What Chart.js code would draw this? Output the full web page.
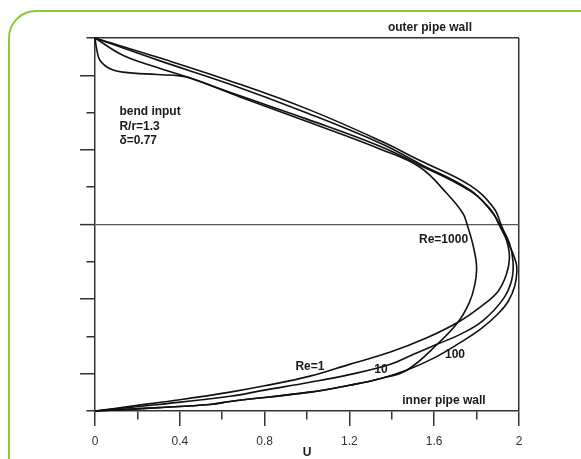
<!DOCTYPE html>
<html>
<head>
<meta charset="utf-8">
<script src="https://cdn.jsdelivr.net/npm/chart.js"></script>
<style>
html,body{margin:0;padding:0;background:#fff;overflow:hidden;}
#frame{position:absolute;left:8px;top:10px;width:620px;height:520px;border:2px solid #8dc63f;border-top-left-radius:28px;}
#wrap{position:absolute;left:0;top:0;width:581px;height:459px;}
</style>
</head>
<body>
<div id="frame"></div>
<div id="wrap"><canvas id="chart" width="581" height="459"></canvas></div>
<script>
// velocity profiles [U, position], outer wall (1) to inner wall (-1)
const re1 = [[0,1],[0.3,0.895],[0.637,0.77],[1.0,0.62],[1.344,0.45],[1.533,0.343],[1.769,0.21],[1.88,0.09],[1.915,0],[1.945,-0.1],[1.955,-0.18],[1.94,-0.27],[1.9,-0.36],[1.82,-0.44],[1.712,-0.524],[1.56,-0.61],[1.39,-0.685],[1.2,-0.75],[1.014,-0.813],[0.8,-0.865],[0.637,-0.899],[0.4,-0.94],[0.2,-0.97],[0,-1]]
const re10 = [[0,1],[0.3,0.88],[0.637,0.752],[1.0,0.598],[1.344,0.437],[1.533,0.325],[1.769,0.185],[1.87,0.07],[1.91,0],[1.955,-0.1],[1.972,-0.2],[1.965,-0.3],[1.925,-0.4],[1.83,-0.515],[1.73,-0.585],[1.618,-0.64],[1.5,-0.697],[1.39,-0.751],[1.2,-0.805],[1.014,-0.846],[0.8,-0.888],[0.637,-0.921],[0.3,-0.965],[0,-1]]
const re100 = [[0,1],[0.134,0.906],[0.291,0.843],[0.448,0.785],[0.684,0.69],[1.0,0.565],[1.344,0.42],[1.533,0.318],[1.769,0.18],[1.87,0.075],[1.905,0],[1.95,-0.1],[1.985,-0.2],[1.99,-0.25],[1.98,-0.33],[1.95,-0.41],[1.9,-0.48],[1.82,-0.56],[1.72,-0.635],[1.6,-0.715],[1.472,-0.78],[1.344,-0.827],[1.2,-0.862],[1.014,-0.899],[0.637,-0.949],[0.542,-0.965],[0.3,-0.982],[0,-1]]
const re1000 = [[0,1],[0.008,0.94],[0.024,0.879],[0.071,0.835],[0.132,0.817],[0.292,0.804],[0.401,0.797],[0.46,0.782],[0.684,0.684],[1.0,0.552],[1.344,0.405],[1.533,0.307],[1.66,0.166],[1.736,0.059],[1.755,0],[1.785,-0.12],[1.8,-0.23],[1.79,-0.33],[1.765,-0.42],[1.712,-0.524],[1.618,-0.638],[1.472,-0.78],[1.344,-0.827],[1.2,-0.862],[1.014,-0.899],[0.637,-0.949],[0.542,-0.965],[0.3,-0.982],[0,-1]]

const xTicks = [0,0.4,0.8,1.2,1.6,2]

// text placed in data units
const notes = [
  {text:'outer pipe wall', u:1.58, y:1.055, align:'center'},
  {text:'inner pipe wall', u:1.646, y:-0.944, align:'center'},
  {text:'bend input', u:0.115, y:0.607, align:'left'},
  {text:'R/r=1.3', u:0.115, y:0.525, align:'left'},
  {text:'\u03b4=0.77', u:0.115, y:0.45, align:'left'},
  {text:'Re=1000', u:1.644, y:-0.082, align:'center'},
  {text:'Re=1', u:1.014, y:-0.76, align:'center'},
  {text:'10', u:1.349, y:-0.777, align:'center'},
  {text:'100', u:1.698, y:-0.699, align:'center'}
]

const fam = '"Liberation Sans", Arial, sans-serif'
const axisCol = '#333'
const isMajor = v => Math.abs(Math.round(v*10)) % 4 === 0
const near = (a,b) => Math.abs(a-b) < 1e-6

const notePlugin = {
  id:'notes',
  afterDatasetsDraw(chart){
    const ctx = chart.ctx, sx = chart.scales.x, sy = chart.scales.y
    ctx.save()
    ctx.font = 'bold 12px ' + fam
    ctx.fillStyle = '#1a1a1a'
    ctx.textBaseline = 'middle'
    notes.forEach(n => {
      ctx.textAlign = n.align
      ctx.fillText(n.text, sx.getPixelForValue(n.u), sy.getPixelForValue(n.y))
    })
    ctx.restore()
  }
}

const ctx = document.getElementById('chart')
new Chart(ctx, {
  type:'scatter',
  data:{
    datasets:[re1, re10, re100, re1000].map(c => ({
      data:c.map(p => ({x:p[0], y:p[1]})),
      showLine:true,
      borderColor:'#111',
      borderWidth:1.6,
      pointRadius:0,
      tension:0.4,
      fill:false,
      clip:false
    }))
  },
  options:{
    responsive:false,
    animation:false,
    layout:{padding:{left:0, top:38, right:62, bottom:0}},
    plugins:{legend:{display:false}, tooltip:{enabled:false}},
    scales:{
      x:{
        type:'linear', min:0, max:2, position:'bottom',
        afterFit(s){ s.height = 48 },
        ticks:{stepSize:0.2, autoSkip:false, maxRotation:0, padding:8, color:'#333', font:{size:12, family:fam},
          callback: v => xTicks.some(t => near(t, v)) ? String(+(+v).toFixed(1)) : ''},
        grid:{
          color: c => (c.tick && near(c.tick.value, 2)) ? axisCol : 'rgba(0,0,0,0)',
          lineWidth:1.5, tickColor:axisCol, tickWidth:1.5, tickLength:15,
          tickBorderDash: c => isMajor(c.tick.value) ? [] : [8, 20]
        },
        border:{color:axisCol, width:1.5},
        title:{display:true, text:'U', color:'#1a1a1a', padding:0, font:{size:12, weight:'bold', family:fam, lineHeight:1}}
      },
      y:{
        type:'linear', min:-1, max:1, position:'left',
        afterFit(s){ s.width = 95 },
        ticks:{stepSize:0.2, autoSkip:false, callback: () => ''},
        grid:{
          color: c => {
            if (!c.tick) return 'rgba(0,0,0,0)'
            if (near(c.tick.value, 1)) return axisCol
            if (near(c.tick.value, 0)) return '#555'
            return 'rgba(0,0,0,0)'
          },
          lineWidth: c => (c.tick && near(c.tick.value, 0)) ? 1.2 : 1.5,
          tickColor:axisCol, tickWidth:1.5, tickLength:15,
          tickBorderDash: c => isMajor(c.tick.value) ? [] : [0, 6.5, 20]
        },
        border:{color:axisCol, width:1.5}
      }
    }
  },
  plugins:[notePlugin]
})
</script>
</body>
</html>
